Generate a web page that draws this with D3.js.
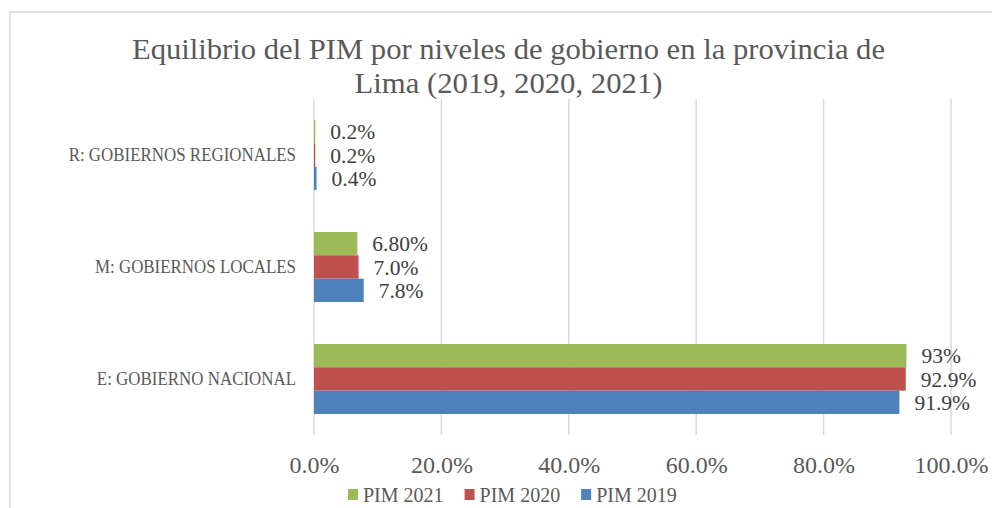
<!DOCTYPE html>
<html>
<head>
<meta charset="utf-8">
<script src="https://cdn.jsdelivr.net/npm/d3@7"></script>
<style>
  html, body { margin: 0; padding: 0; background: #ffffff; }
  svg { display: block; }
  text { font-family: "Liberation Serif", "DejaVu Serif", serif; }
</style>
</head>
<body>
<svg id="chart" width="992" height="508"></svg>
<script>
// ---- Data ----
const categories = ["R: GOBIERNOS REGIONALES", "M: GOBIERNOS LOCALES", "E: GOBIERNO NACIONAL"];
const seriesNames = ["PIM 2021", "PIM 2020", "PIM 2019"];
const pim2021 = [0.2, 6.8, 93.0];
const pim2020 = [0.2, 7.0, 92.9];
const pim2019 = [0.4, 7.8, 91.9];
const labels2021 = ["0.2%", "6.80%", "93%"];
const labels2020 = ["0.2%", "7.0%", "92.9%"];
const labels2019 = ["0.4%", "7.8%", "91.9%"];
const xTicks = [0, 20, 40, 60, 80, 100];
const xTickLabels = ["0.0%", "20.0%", "40.0%", "60.0%", "80.0%", "100.0%"];
const titleLines = ["Equilibrio del PIM por niveles de gobierno en la provincia de", "Lima (2019, 2020, 2021)"];

const colors = { "PIM 2021": "#9BBB59", "PIM 2020": "#C0504D", "PIM 2019": "#4F81BD" };
const seriesValues = { "PIM 2021": pim2021, "PIM 2020": pim2020, "PIM 2019": pim2019 };
const seriesLabels = { "PIM 2021": labels2021, "PIM 2020": labels2020, "PIM 2019": labels2019 };

const svg = d3.select("#chart");

// chart area border
svg.append("rect")
  .attr("x", 10).attr("y", 12)
  .attr("width", 1000).attr("height", 520)
  .attr("fill", "none").attr("stroke", "#d9d9d9").attr("stroke-width", 1.5);

// Title
const titleG = svg.append("g");
const titleSpecs = [
  { y: 58.5, len: 753 },
  { y: 93, len: 308 }
];
titleLines.forEach((t, i) => {
  titleG.append("text")
    .attr("x", 508.5).attr("y", titleSpecs[i].y)
    .attr("text-anchor", "middle")
    .attr("font-size", 29)
    .attr("fill", "#595959")
    .attr("textLength", titleSpecs[i].len)
    .attr("lengthAdjust", "spacingAndGlyphs")
    .text(t);
});

// Scales
const x = d3.scaleLinear().domain([0, 100]).range([314, 951]);
const y = d3.scaleBand().domain(categories).range([99, 435]).paddingInner(0.375).paddingOuter(0.1875);
const yInner = d3.scaleBand().domain(seriesNames).range([0, y.bandwidth()]);

// Gridlines
svg.append("g")
  .selectAll("line")
  .data(xTicks)
  .join("line")
  .attr("x1", d => x(d)).attr("x2", d => x(d))
  .attr("y1", 99).attr("y2", 435)
  .attr("stroke", "#d9d9d9").attr("stroke-width", 1.5);

// X axis labels
const xAxis = d3.axisBottom(x).tickValues(xTicks).tickFormat((d, i) => xTickLabels[i]).tickSize(0).tickPadding(0);
const xg = svg.append("g").attr("transform", "translate(0,455)").call(xAxis);
xg.select(".domain").remove();
xg.selectAll("text")
  .attr("font-family", "Liberation Serif, DejaVu Serif, serif")
  .attr("font-size", 24)
  .attr("fill", "#595959")
  .attr("dy", 0).attr("y", 18);

// Y axis labels
const yAxis = d3.axisLeft(y).tickSize(0).tickPadding(18);
const yg = svg.append("g").attr("transform", `translate(${x(0)},0)`).call(yAxis);
yg.select(".domain").remove();
yg.selectAll("text")
  .attr("font-family", "Liberation Serif, DejaVu Serif, serif")
  .attr("font-size", 19)
  .attr("fill", "#595959")
  .each(function () {
    const w = this.getComputedTextLength();
    d3.select(this).attr("textLength", w * 0.89).attr("lengthAdjust", "spacingAndGlyphs");
  });

// Bars
const groups = svg.append("g")
  .selectAll("g")
  .data(categories)
  .join("g")
  .attr("transform", d => `translate(0,${y(d)})`);

groups.selectAll("rect")
  .data((c, ci) => seriesNames.map(s => ({ s, v: seriesValues[s][ci] })))
  .join("rect")
  .attr("x", x(0))
  .attr("y", d => yInner(d.s))
  .attr("width", d => x(d.v) - x(0))
  .attr("height", yInner.bandwidth())
  .attr("fill", d => colors[d.s]);

groups.selectAll("text")
  .data((c, ci) => seriesNames.map(s => ({ s, v: seriesValues[s][ci], l: seriesLabels[s][ci] })))
  .join("text")
  .attr("x", d => x(d.v) + 15)
  .attr("y", d => yInner(d.s) + yInner.bandwidth() / 2)
  .attr("dy", "0.35em")
  .attr("font-size", 21.5)
  .attr("fill", "#404040")
  .text(d => d.l);

// Legend
const legend = svg.append("g").attr("transform", "translate(348,489)");
let lx = 0;
seriesNames.forEach(s => {
  const g = legend.append("g").attr("transform", `translate(${lx},0)`);
  g.append("rect").attr("width", 10).attr("height", 11).attr("fill", colors[s]);
  const t = g.append("text").attr("x", 15).attr("y", 12.5)
    .attr("font-size", 20).attr("fill", "#595959").text(s);
  const w = t.node().getComputedTextLength();
  lx += 15 + w + 21;
});
</script>
</body>
</html>
